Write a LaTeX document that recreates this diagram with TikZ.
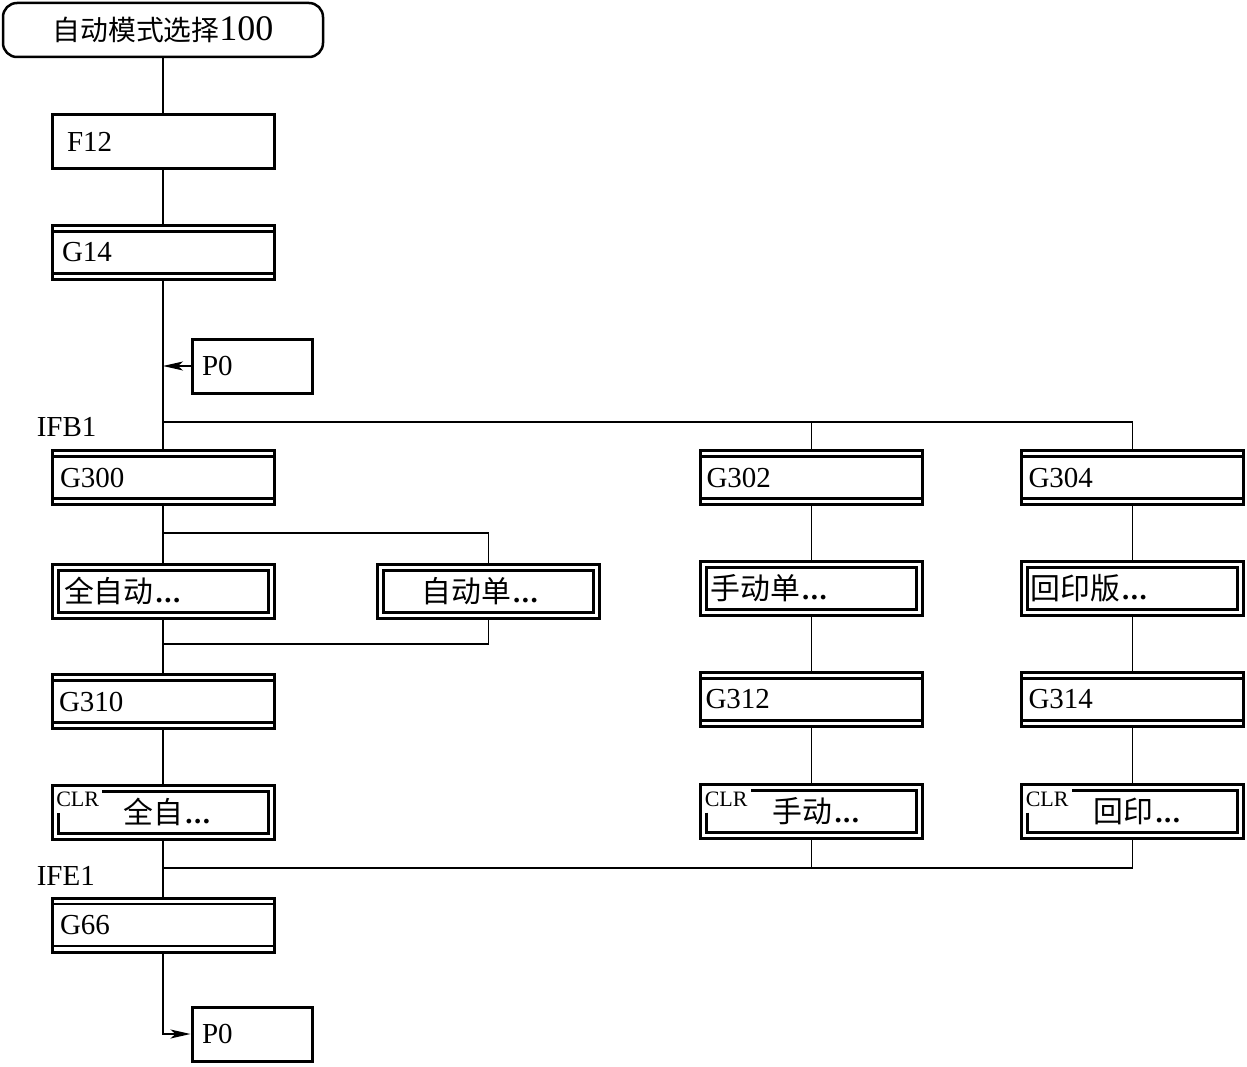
\documentclass[tikz,border=0pt]{standalone}
\usepackage{fontspec}
\setmainfont{Liberation Serif}
\newfontfamily\cjk[Scale=1.03]{Noto Sans CJK SC}
\usetikzlibrary{arrows.meta}
\newcommand\latf{\fontsize{29}{33}\selectfont}
\newcommand\mydots{\kern2pt\textbf{.\kern1.5pt.\kern1.5pt.}}
\begin{document}
\begin{tikzpicture}[x=1pt,y=-1pt,line width=1.5pt,
  box/.style={draw,rectangle,line width=3pt,minimum height=54pt,inner xsep=0pt,inner ysep=0pt,text width=222pt,align=left,font=\latf},
  pbox/.style={box,text width=120pt},
  topbox/.style={draw,rectangle,rounded corners=14pt,line width=2.5pt,minimum height=54pt,inner xsep=0pt,inner ysep=0pt,text width=320pt,align=center},
  gbox/.style={box,path picture={
     \draw[line width=2.5pt] ([yshift=-6pt]path picture bounding box.north west) -- ([yshift=-6pt]path picture bounding box.north east);
     \draw[line width=2.5pt] ([yshift=6pt]path picture bounding box.south west) -- ([yshift=6pt]path picture bounding box.south east);}},
  dbox/.style={box,path picture={
     \draw[line width=3pt] ([shift={(6pt,-6pt)}]path picture bounding box.north west) rectangle ([shift={(-6pt,6pt)}]path picture bounding box.south east);}},
  cbox/.style={box,align=center,path picture={
     \draw[line width=3pt] ([shift={(6pt,-28pt)}]path picture bounding box.north west) -- ([shift={(6pt,6pt)}]path picture bounding box.south west) -- ([shift={(-6pt,6pt)}]path picture bounding box.south east) -- ([shift={(-6pt,-6pt)}]path picture bounding box.north east) -- ([shift={(50pt,-6pt)}]path picture bounding box.north west);}},
  clr/.style={font=\fontsize{22}{24}\selectfont,inner sep=0pt,anchor=north west},
  lab/.style={font=\latf,inner sep=0pt,anchor=west},
  arr/.style={-{Stealth[length=20pt,width=9pt,inset=5pt]}}]
\useasboundingbox (0,0) rectangle (1247,1067);

\node[topbox] (top) at (163,30) {{\fontsize{27}{30}\selectfont\cjk 自动模式选择}{\fontsize{36}{38}\selectfont 100}};
\node[box] (f12) at (163,142) {\hspace*{15pt}F12};
\node[gbox] (g14) at (163,252.5) {\hspace*{10pt}G14};
\node[pbox] (p0a) at (252,366) {\hspace*{10pt}P0};
\node[lab] (ifb) at (36,427) {IFB1};
\node[gbox] (g300) at (163,477.5) {\hspace*{8pt}G300};
\node[gbox] (g302) at (811.5,477.5) {\hspace*{6pt}G302};
\node[gbox] (g304) at (1132.5,477.5) {\hspace*{7pt}G304};
\node[dbox] (qzd) at (163,591) {\hspace*{12pt}{\cjk 全自动}\mydots};
\node[dbox] (zdd) at (488.5,591) {\hspace*{44pt}{\cjk 自动单}\mydots};
\node[dbox] (sdd) at (811.5,588.5) {\hspace*{10pt}{\cjk 手动单}\mydots};
\node[dbox] (hyb) at (1132.5,588.5) {\hspace*{9pt}{\cjk 回印版}\mydots};
\node[gbox] (g310) at (163,701.5) {\hspace*{7pt}G310};
\node[gbox] (g312) at (811.5,699.5) {\hspace*{5pt}G312};
\node[gbox] (g314) at (1132.5,699.5) {\hspace*{7pt}G314};
\node[cbox] (c1) at (163,812) {\hspace*{8pt}{\cjk 全自}\mydots};
\node[cbox] (c2) at (811.5,811.5) {\hspace*{9pt}{\cjk 手动}\mydots};
\node[cbox] (c3) at (1132.5,811.5) {\hspace*{9pt}{\cjk 回印}\mydots};
\node[clr] (c1l) at ([shift={(5pt,-8pt)}]c1.north west) {CLR};
\node[clr] (c2l) at ([shift={(5pt,-8pt)}]c2.north west) {CLR};
\node[clr] (c3l) at ([shift={(5pt,-8pt)}]c3.north west) {CLR};
\node[lab] (ife) at (36,876) {IFE1};
\node[gbox] (g66) at (163,925) {\hspace*{8pt}G66};
\node[pbox] (p0b) at (252,1034) {\hspace*{10pt}P0};

\draw (top) -- (f12);
\draw (f12) -- (g14);
\draw (g14) -- (g300);
\draw[arr] (p0a) -- (p0a -| g14);
\coordinate (b1) at (163,422);
\draw (b1) -| (g302);
\draw (b1) -| (g304);
\draw (g300) -- (qzd);
\coordinate (b2) at (163,533);
\draw (b2) -| (zdd);
\draw (qzd) -- (g310);
\coordinate (m2) at (163,644);
\draw (zdd) |- (m2);
\draw (g310) -- (c1);
\draw (c1) -- (g66);
\draw (g302) -- (sdd);
\draw (sdd) -- (g312);
\draw (g312) -- (c2);
\draw (g304) -- (hyb);
\draw (hyb) -- (g314);
\draw (g314) -- (c3);
\coordinate (m3) at (163,868);
\draw (c2) |- (m3);
\draw (c3) |- (m3);
\draw[arr] (g66) |- (p0b);
\end{tikzpicture}
\end{document}
